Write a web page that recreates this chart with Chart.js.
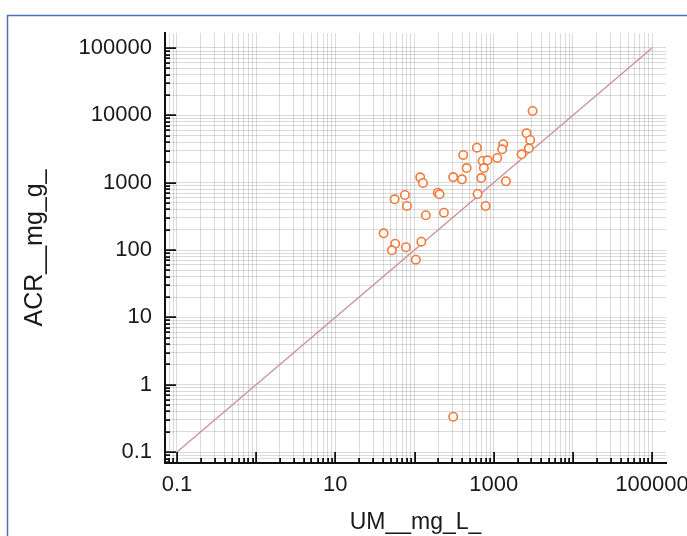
<!DOCTYPE html>
<html><head><meta charset="utf-8">
<script src="https://cdn.jsdelivr.net/npm/chart.js@4"></script>
<style>html,body{margin:0;padding:0;background:#fff;}canvas{display:block;}</style>
</head><body>
<canvas id="c" width="687" height="536"></canvas>
<script>
// UM (mg/L) values, x axis
const umValues = [3100, 2600, 2890, 2780, 2250, 1320, 1280, 1110, 614, 412, 724, 837, 752, 455, 695, 308, 397, 1426, 118, 128, 197, 207, 626, 75.7, 56.1, 80.2, 790, 235, 139, 40.7, 57.0, 51.8, 77.9, 122, 104, 308];
// ACR (mg/g) values, y axis
const acrValues = [11600, 5410, 4300, 3240, 2640, 3720, 3130, 2330, 3310, 2580, 2100, 2150, 1650, 1650, 1170, 1210, 1120, 1050, 1200, 990, 710, 672, 679, 656, 566, 451, 451, 358, 328, 177, 124, 99, 110, 133, 71.8, 0.334];
// identity reference line y = x
const lineValues = [0.1, 100000];
const xTickLabels = [0.1, 10, 1000, 100000];
const yTickLabels = [0.1, 1, 10, 100, 1000, 10000, 100000];
const xMin = 0.0706, xMax = 150000;
const yMin = 0.0687, yMax = 167000;

function logTicks(min, max) {
  const out = [];
  const k0 = Math.floor(Math.log10(min)), k1 = Math.ceil(Math.log10(max));
  for (let k = k0; k <= k1; k++) {
    for (let m = 1; m <= 9; m++) {
      const v = parseFloat((m * Math.pow(10, k)).toPrecision(6));
      if (v >= min && v <= max) out.push({value: v});
    }
  }
  return out;
}
const isDecade = v => Math.abs(Math.log10(v) - Math.round(Math.log10(v))) < 1e-9;
const inList = (v, list) => list.some(t => Math.abs(t - v) / t < 1e-9);

const points = umValues.map((x, i) => ({x: x, y: acrValues[i]}));
const line = lineValues.map(v => ({x: v, y: v}));

const frame = {
  id: 'frame',
  afterDraw(chart) {
    const ctx = chart.ctx;
    ctx.save();
    ctx.strokeStyle = '#4c70c2';
    ctx.lineWidth = 1.5;
    ctx.beginPath();
    ctx.moveTo(7.5, 600);
    ctx.lineTo(7.5, 15.5);
    ctx.lineTo(700, 15.5);
    ctx.stroke();
    ctx.restore();
  }
};

const innerTicks = {
  id: 'innerTicks',
  afterDraw(chart) {
    const ctx = chart.ctx;
    const xs = chart.scales.x, ys = chart.scales.y;
    const a = chart.chartArea;
    ctx.save();
    ctx.strokeStyle = '#111';
    ctx.lineWidth = 1.8;
    ctx.beginPath();
    xs.ticks.forEach(t => {
      const px = Math.round(xs.getPixelForValue(t.value)) + 0.1;
      const len = isDecade(t.value) ? 11 : 5;
      ctx.moveTo(px, a.bottom);
      ctx.lineTo(px, a.bottom - len);
    });
    ys.ticks.forEach(t => {
      const py = Math.round(ys.getPixelForValue(t.value)) + 0.1;
      const len = isDecade(t.value) ? 11 : 5;
      ctx.moveTo(a.left, py);
      ctx.lineTo(a.left + len, py);
    });
    ctx.stroke();
    ctx.restore();
  }
};

const tickFont = {family: '"Liberation Sans", Arial, Helvetica, sans-serif', size: 22};

new Chart(document.getElementById('c'), {
  type: 'scatter',
  data: {
    datasets: [
      {
        type: 'line',
        data: line,
        borderColor: 'rgb(200,140,150)',
        borderWidth: 1.2,
        pointRadius: 0,
        fill: false,
        order: 2
      },
      {
        data: points,
        pointRadius: 4.2,
        pointBorderWidth: 1.6,
        borderColor: '#f3793a',
        backgroundColor: '#ffffff',
        order: 1
      }
    ]
  },
  options: {
    responsive: false,
    animation: false,
    events: [],
    layout: {padding: {left: 0, right: 21, top: 33, bottom: 0}},
    plugins: {legend: {display: false}, tooltip: {enabled: false}},
    scales: {
      x: {
        type: 'logarithmic',
        min: xMin, max: xMax,
        afterBuildTicks: s => { s.ticks = logTicks(xMin, xMax); },
        afterFit: s => { s.height = 73; s.paddingLeft = 0; s.paddingRight = 0; },
        grid: {color: 'rgba(0,0,0,0.14)', lineWidth: 1, drawTicks: false},
        border: {display: true, color: '#111', width: 2},
        ticks: {
          autoSkip: false, maxRotation: 0, minRotation: 0, padding: 9,
          color: '#1a1a1a', font: tickFont,
          callback: v => inList(v, xTickLabels) ? String(v) : ''
        },
        title: {display: true, text: 'UM__mg_L_', color: '#1a1a1a',
          font: {family: tickFont.family, size: 23}, padding: {top: 0, bottom: 0}}
      },
      y: {
        type: 'logarithmic',
        min: yMin, max: yMax,
        afterBuildTicks: s => { s.ticks = logTicks(yMin, yMax); },
        afterFit: s => { s.width = 165; s.paddingTop = 0; s.paddingBottom = 0; },
        grid: {color: 'rgba(0,0,0,0.14)', lineWidth: 1, drawTicks: false},
        border: {display: true, color: '#111', width: 2},
        ticks: {
          autoSkip: false, padding: 13,
          color: '#1a1a1a', font: tickFont,
          callback: v => inList(v, yTickLabels) ? String(v) : ''
        },
        title: {display: true, text: 'ACR__mg_g_', color: '#1a1a1a',
          font: {family: tickFont.family, size: 25}, padding: {top: 20, bottom: 0}}
      }
    }
  },
  plugins: [frame, innerTicks]
});
</script>
</body></html>
